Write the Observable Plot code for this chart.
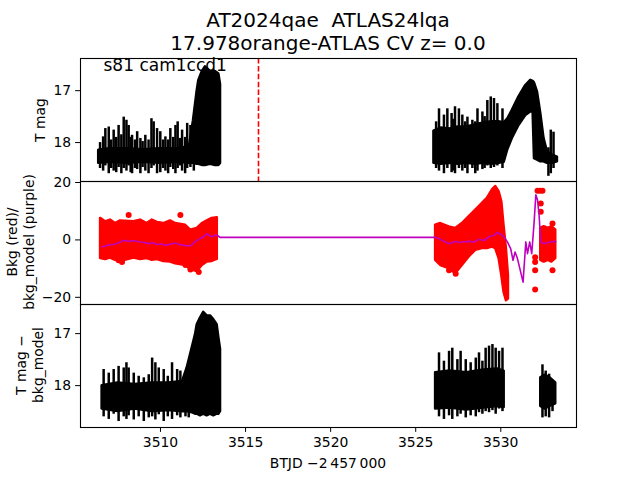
<!DOCTYPE html>
<html><head><meta charset="utf-8">
<script src="https://cdn.jsdelivr.net/npm/d3@7"></script>
<script src="https://cdn.jsdelivr.net/npm/@observablehq/plot@0.6"></script>
<style>
body{margin:0;background:#fff;}
#fig{position:relative;width:640px;height:480px;font-family:"DejaVu Sans",sans-serif;color:#000;overflow:hidden;background:#fff}
.ttl{position:absolute;left:0;width:656px;text-align:center;font-size:20px;line-height:23px;white-space:pre}
.xlab{position:absolute;left:0;width:656px;text-align:center;font-size:13.9px;line-height:17px;white-space:pre}
.ylab{position:absolute;font-size:13.9px;line-height:17px;text-align:center;transform:translate(-50%,-50%) rotate(-90deg);white-space:pre}
</style></head><body><div id="fig"></div>
<script>
// ---------- text ----------
const titleLines = ["AT2024qae  ATLAS24lqa", "17.978orange-ATLAS CV z= 0.0"];
const sectorLabel = "s81 cam1ccd1";
const xLabel = "BTJD \u22122\u2009457\u2009000";
const yLabels = ["T mag", "Bkg (red)/\nbkg_model (purple)", "T mag \u2212\nbkg_model"];
const xTicks = [3510, 3515, 3520, 3525, 3530];
const yTicks1 = [17, 18];
const yTicks2 = [20, 0, -20];
const yTicks3 = [17, 18];
const trigger_t = [3515.76];

// ---------- panel 1: T mag (dense envelopes + error bars) ----------
const lc1a_t  = [3506.37, 3507.0, 3508.0, 3509.0, 3510.0, 3511.0, 3511.7, 3511.94, 3512.16, 3512.25, 3512.45, 3512.64, 3512.94, 3513.23, 3513.43, 3513.53];
const lc1a_hi = [18.15, 18.12, 18.12, 18.14, 18.12, 18.12, 18.08, 17.58, 17.0, 16.81, 16.64, 16.54, 16.63, 16.63, 16.68, 16.88];
const lc1a_lo = [18.4, 18.38, 18.4, 18.38, 18.4, 18.38, 18.4, 18.4, 18.42, 18.42, 18.44, 18.44, 18.42, 18.44, 18.44, 18.40];
const lc1b_t  = [3526.07, 3526.5, 3527.0, 3527.5, 3528.0, 3528.5, 3529.0, 3529.5, 3529.9, 3530.2, 3530.4, 3530.68, 3531.07, 3531.47, 3531.76, 3531.90, 3531.98, 3532.16, 3532.35, 3532.54, 3532.74, 3533.04, 3533.33];
const lc1b_hi = [17.78, 17.72, 17.74, 17.7, 17.7, 17.66, 17.62, 17.6, 17.6, 17.62, 17.55, 17.38, 17.12, 16.90, 16.80, 16.82, 16.85, 17.03, 17.44, 17.92, 18.18, 18.24, 18.28];
const lc1b_lo = [18.4, 18.42, 18.4, 18.42, 18.4, 18.42, 18.4, 18.42, 18.4, 18.38, 18.15, 17.92, 17.67, 17.48, 17.41, 17.41, 18.31, 18.34, 18.37, 18.37, 18.40, 18.40, 18.37];
const err1_t  = [3506.45, 3506.63, 3506.76, 3506.96, 3507.1, 3507.25, 3507.4, 3507.54, 3507.7, 3507.84, 3508.0, 3508.13, 3508.25, 3508.33, 3508.5, 3508.63, 3508.82, 3508.95, 3509.11, 3509.3, 3509.47, 3509.6, 3509.8, 3509.99, 3510.15, 3510.29, 3510.45, 3510.58, 3510.75, 3510.88, 3511.01, 3511.15, 3511.27, 3511.45, 3511.57, 3511.76, 3511.96,
                 3526.2, 3526.37, 3526.66, 3526.86, 3527.11, 3527.2, 3527.31, 3527.54, 3527.74, 3527.9, 3528.04, 3528.33, 3528.5, 3528.63, 3528.92, 3529.05, 3529.21, 3529.41, 3529.6, 3529.8, 3530.1, 3532.8, 3532.94, 3533.1];
const err1_hi = [18.0, 17.89, 17.73, 17.70, 17.95, 17.76, 17.9, 17.67, 17.85, 17.51, 17.57, 17.67, 17.9, 17.86, 17.95, 17.79, 17.92, 17.98, 17.86, 17.95, 17.54, 17.60, 17.73, 17.79, 17.95, 17.89, 17.95, 17.73, 17.9, 17.67, 17.60, 17.92, 17.76, 17.9, 17.63, 17.67, 17.86,
                 17.6, 17.35, 17.47, 17.35, 17.44, 17.55, 17.31, 17.35, 17.47, 17.6, 17.51, 17.57, 17.6, 17.35, 17.41, 17.5, 17.19, 17.12, 17.15, 17.25, 17.35, 18.1, 17.76, 17.8];
const err1_lo = [18.5, 18.55, 18.45, 18.6, 18.5, 18.55, 18.58, 18.48, 18.6, 18.5, 18.55, 18.45, 18.58, 18.6, 18.5, 18.52, 18.6, 18.48, 18.55, 18.6, 18.5, 18.45, 18.6, 18.58, 18.5, 18.55, 18.6, 18.48, 18.52, 18.6, 18.5, 18.45, 18.55, 18.6, 18.5, 18.48, 18.55,
                 18.5, 18.55, 18.6, 18.5, 18.58, 18.55, 18.6, 18.5, 18.55, 18.5, 18.6, 18.5, 18.6, 18.55, 18.52, 18.5, 18.45, 18.5, 18.48, 18.45, 18.5, 18.65, 18.6, 18.5];

// ---------- panel 2: background (red) and model (purple) ----------
const bkgA_t  = [3506.48, 3506.77, 3507.06, 3507.36, 3507.65, 3508.44, 3508.83, 3509.22, 3509.52, 3509.81, 3510.20, 3510.59, 3510.89, 3511.48, 3511.77, 3512.16, 3512.46, 3512.75, 3513.04, 3513.34];
const bkgA_hi = [7.5, 6.3, 6.9, 5.7, 6.6, 6.3, 6.9, 5.7, 6.9, 6.1, 5.7, 6.6, 5.7, 5.1, 3.4, 4.0, 5.7, 6.6, 7.5, 7.7];
const bkgA_lo = [-6.5, -6.8, -6.3, -7.1, -7.5, -6.3, -6.8, -6.5, -7.1, -6.8, -7.5, -7.7, -8.3, -8.9, -10.3, -11.0, -8.9, -7.7, -7.5, -6.8];
const bkgB_t  = [3526.17, 3526.47, 3526.96, 3527.35, 3527.74, 3528.13, 3528.53, 3528.92, 3529.21, 3529.51, 3529.70, 3529.90, 3530.06, 3530.19, 3530.33, 3530.45];
const bkgB_hi = [5.1, 5.7, 4.5, 4.0, 5.7, 8.0, 10.4, 12.7, 14.5, 17.4, 18.6, 16.8, 13.3, 5.1, -3.0, -12.4];
const bkgB_lo = [-7.1, -8.9, -10.0, -11.8, -8.9, -6.0, -3.6, -3.0, -3.0, -2.5, -3.0, -6.5, -12.4, -18.2, -21.2, -20.6];
const bkgC_t  = [3532.35, 3532.55, 3532.8, 3533.0, 3533.23];
const bkgC_hi = [4.0, 4.6, 4.0, 4.6, 3.5];
const bkgC_lo = [-7.1, -7.7, -7.1, -7.7, -6.5];
const bkgDot_t = [3508.13, 3511.17, 3507.54, 3507.74, 3511.76, 3512.25, 3511.47, 3526.96, 3527.35,
                  3532.16, 3532.31, 3532.45, 3532.35, 3532.35, 3532.02, 3532.02, 3532.02, 3532.02, 3533.04, 3533.04];
const bkgDot_v = [8.7, 8.7, -7.1, -7.7, -10.3, -11.2, -8.7, -10.6, -11.8,
                  17.1, 17.1, 17.1, 12.7, 9.8, -6.0, -7.7, -10.6, -17.3, 5.7, -10.6];
const model_t = [3506.57, 3506.8, 3507.06, 3507.3, 3507.64, 3507.84, 3508.1, 3508.43, 3508.82, 3509.05, 3509.31, 3509.55, 3509.80, 3510.05, 3510.29, 3510.55, 3510.88, 3511.1, 3511.37, 3511.76, 3512.06, 3512.35, 3512.55, 3512.74, 3512.9, 3513.04, 3513.2, 3513.33, 3513.5, 3513.63,
                 3526.17, 3526.37, 3526.66, 3526.96, 3527.15, 3527.35, 3527.55, 3527.74, 3528.13, 3528.43, 3528.72, 3529.02, 3529.31, 3529.60, 3529.80, 3529.99, 3530.19, 3530.39, 3530.58, 3530.72, 3530.84, 3530.98, 3531.17, 3531.31, 3531.47, 3531.57, 3531.70, 3531.82, 3531.96, 3532.06, 3532.16, 3532.25, 3532.35, 3532.54, 3532.74, 3532.94, 3533.13, 3533.23];
const model_v = [-2.5, -2.0, -1.7, -1.5, -0.7, -0.1, -0.5, -0.3, -0.7, -0.9, -1.3, -1.0, -1.6, -1.4, -1.9, -1.5, -1.1, -1.6, -1.9, -2.1, -0.5, 0.5, 1.2, 2.2, 1.4, 1.1, 1.6, 1.7, 0.9, 0.9,
                 0.9, 0.5, -0.5, -1.3, -1.0, -0.5, -0.9, -0.7, -0.5, -0.7, 0.2, -0.2, 1.1, 1.6, 2.6, 2.0, 1.1, -0.7, -3.0, -7.1, -4.2, -6.5, -11.2, -14.7, -0.7, -4.8, -0.7, -4.8, 6.3, 15.7, 13.9, 8.7, -0.7, -1.3, -1.0, -0.7, -0.5, -0.6];

// ---------- panel 3: T mag - bkg_model ----------
const lc3a_t  = [3506.57, 3507.5, 3508.5, 3509.5, 3510.5, 3511.3, 3511.57, 3511.86, 3512.06, 3512.16, 3512.35, 3512.54, 3512.74, 3512.94, 3513.13, 3513.33, 3513.43, 3513.53];
const lc3a_hi = [18.0, 17.95, 17.98, 17.95, 17.95, 17.92, 17.66, 17.28, 17.02, 16.83, 16.70, 16.59, 16.66, 16.66, 16.73, 16.83, 17.08, 17.3];
const lc3a_lo = [18.45, 18.5, 18.45, 18.5, 18.48, 18.5, 18.5, 18.52, 18.55, 18.55, 18.58, 18.55, 18.58, 18.55, 18.58, 18.55, 18.55, 18.5];
const lc3b_t  = [3526.17, 3527.0, 3528.0, 3529.0, 3529.8, 3530.2];
const lc3b_hi = [17.75, 17.72, 17.75, 17.7, 17.68, 17.72];
const lc3b_lo = [18.45, 18.43, 18.47, 18.43, 18.4, 18.42];
const lc3c_t  = [3532.35, 3532.6, 3532.9, 3533.23];
const lc3c_hi = [17.85, 17.8, 17.85, 17.95];
const lc3c_lo = [18.4, 18.45, 18.4, 18.35];
const err3_t  = [3506.66, 3506.96, 3507.25, 3507.54, 3507.84, 3508.0, 3508.13, 3508.43, 3508.72, 3509.02, 3509.31, 3509.51, 3509.70, 3509.90, 3510.19, 3510.43, 3510.68, 3510.98, 3511.17, 3511.47, 3511.66,
                 3526.37, 3526.66, 3526.96, 3527.15, 3527.45, 3527.64, 3527.94, 3528.23, 3528.53, 3528.72, 3528.92, 3529.11, 3529.31, 3529.51, 3529.70, 3529.90, 3530.1,
                 3532.45, 3532.64, 3532.84, 3533.04];
const err3_hi = [17.69, 17.76, 17.69, 17.63, 17.66, 17.56, 17.66, 17.76, 17.82, 17.85, 17.79, 17.47, 17.56, 17.66, 17.69, 17.82, 17.56, 17.69, 17.72, 17.76, 17.56,
                 17.37, 17.53, 17.34, 17.28, 17.50, 17.34, 17.50, 17.56, 17.47, 17.37, 17.53, 17.28, 17.24, 17.21, 17.28, 17.34, 17.28,
                 17.6, 17.72, 17.78, 17.9];
const err3_lo = [18.6, 18.65, 18.55, 18.69, 18.6, 18.65, 18.58, 18.66, 18.6, 18.69, 18.62, 18.6, 18.66, 18.56, 18.69, 18.6, 18.65, 18.58, 18.62, 18.6, 18.62,
                 18.6, 18.65, 18.58, 18.65, 18.6, 18.55, 18.62, 18.58, 18.6, 18.52, 18.55, 18.5, 18.52, 18.48, 18.55, 18.45, 18.5,
                 18.62, 18.6, 18.62, 18.5];

// ---------- layout ----------
const fig = document.getElementById("fig");
const X_DOMAIN = [3505.3, 3534.45];
const W = 640, ML = 80, MR = 64, FONT = "DejaVu Sans";
const ySign = d => d < 0 ? "\u2212" + (-d) : String(d);

function envelope(t, lo, hi, color) {
  return Plot.areaY(t, {x: t, y1: lo, y2: hi, fill: color, stroke: color, strokeWidth: 2.5, strokeLinejoin: "round", curve: "linear"});
}
function errbars(t, lo, hi) {
  return Plot.ruleX(t, {x: t, y1: lo, y2: hi, stroke: "black", strokeWidth: 2.5});
}

function panel({top, height, marginBottom = 0, yDomain, yTicks, marks, xAxis = false}) {
  const axes = [
    Plot.frame({stroke: "black", strokeWidth: 1.1}),
    Plot.axisY({ticks: yTicks, tickSize: 4.9, tickPadding: 4.5, label: null, tickFormat: ySign, fontSize: 13.9})
  ];
  if (xAxis) axes.push(Plot.axisX({ticks: xTicks, tickSize: 4.9, tickPadding: 4.5, label: null, tickFormat: d => String(d), fontSize: 13.9}));
  const svg = Plot.plot({
    width: W, height: height + marginBottom,
    marginLeft: ML, marginRight: MR, marginTop: 0, marginBottom,
    style: {background: "transparent", overflow: "visible", fontFamily: FONT, fontSize: "13.9px", color: "black"},
    x: {domain: X_DOMAIN, axis: xAxis ? undefined : null},
    y: {domain: yDomain},
    marks: [...marks, ...axes]
  });
  svg.style.position = "absolute";
  svg.style.left = "0px";
  svg.style.top = top + "px";
  fig.appendChild(svg);
}

panel({
  top: 58, height: 123, yDomain: [18.75, 16.38], yTicks: yTicks1,
  marks: [
    envelope(lc1a_t, lc1a_lo, lc1a_hi, "black"),
    envelope(lc1b_t, lc1b_lo, lc1b_hi, "black"),
    errbars(err1_t, err1_lo, err1_hi),
    Plot.ruleX(trigger_t, {x: d => d, stroke: "red", strokeWidth: 1.6, strokeDasharray: "5.5,2.4"}),
    Plot.text([sectorLabel], {text: d => d, frameAnchor: "top-left", textAnchor: "start", lineAnchor: "top", dx: 23, dy: 0, fontSize: 17, fill: "black"})
  ]
});

panel({
  top: 181, height: 123, yDomain: [-22.5, 20.35], yTicks: yTicks2,
  marks: [
    envelope(bkgA_t, bkgA_lo, bkgA_hi, "red"),
    envelope(bkgB_t, bkgB_lo, bkgB_hi, "red"),
    envelope(bkgC_t, bkgC_lo, bkgC_hi, "red"),
    Plot.dot(bkgDot_t, {x: bkgDot_t, y: bkgDot_v, r: 3, fill: "red"}),
    Plot.line(model_t, {x: model_t, y: model_v, stroke: "#bf00bf", strokeWidth: 1.6, curve: "linear"})
  ]
});

panel({
  top: 304, height: 123, marginBottom: 53, yDomain: [18.805, 16.44], yTicks: yTicks3, xAxis: true,
  marks: [
    envelope(lc3a_t, lc3a_lo, lc3a_hi, "black"),
    envelope(lc3b_t, lc3b_lo, lc3b_hi, "black"),
    envelope(lc3c_t, lc3c_lo, lc3c_hi, "black"),
    errbars(err3_t, err3_lo, err3_hi)
  ]
});

// titles and axis labels (real text)
titleLines.forEach((s, i) => {
  const d = document.createElement("div");
  d.className = "ttl"; d.textContent = s; d.style.top = (9 + 23 * i) + "px";
  fig.appendChild(d);
});
const xl = document.createElement("div");
xl.className = "xlab"; xl.textContent = xLabel; xl.style.top = "455px";
fig.appendChild(xl);
const yPos = [[40, 120], [20.5, 242], [29.5, 365]];
yLabels.forEach((s, i) => {
  const d = document.createElement("div");
  d.className = "ylab"; d.textContent = s;
  d.style.left = yPos[i][0] + "px"; d.style.top = yPos[i][1] + "px";
  fig.appendChild(d);
});
</script></body></html>
